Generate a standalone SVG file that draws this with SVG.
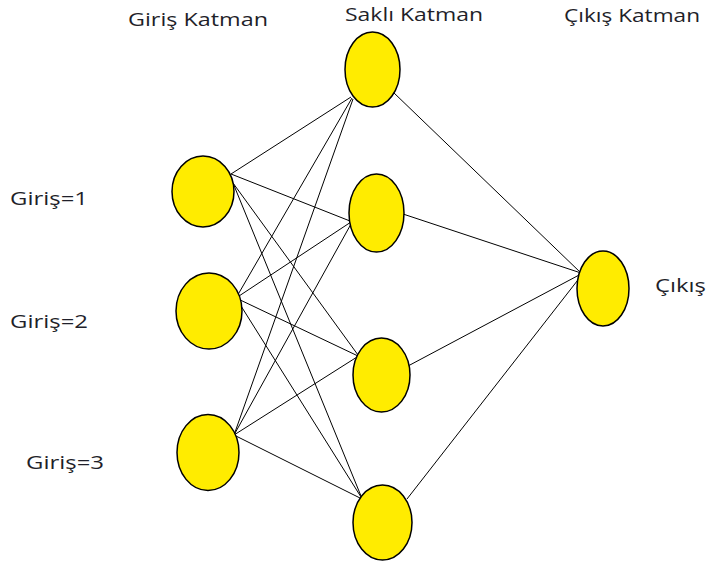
<svg xmlns="http://www.w3.org/2000/svg" width="706" height="563" viewBox="0 0 706 563">
  <style>
    .node { fill: #ffec00; stroke: #000; stroke-width: 1.5; }
    .edge { stroke: #000; stroke-width: 1; fill: none; }
    .lbl { font-family: "Open Sans", "Liberation Sans", sans-serif; font-size: 18px; fill: #1f1f2a; }
  </style>
  <rect width="706" height="563" fill="#fff"/>

  <g id="connectors">
    <!-- input -> hidden -->
    <line class="edge" x1="231" y1="174" x2="351" y2="97"/>
    <line class="edge" x1="231" y1="174" x2="350" y2="221"/>
    <line class="edge" x1="233" y1="183" x2="358" y2="355"/>
    <line class="edge" x1="233" y1="183" x2="361" y2="496"/>
    <line class="edge" x1="236" y1="298" x2="352" y2="98"/>
    <line class="edge" x1="236" y1="298" x2="351" y2="222"/>
    <line class="edge" x1="236" y1="298" x2="358" y2="356"/>
    <line class="edge" x1="236" y1="298" x2="361" y2="497"/>
    <line class="edge" x1="234" y1="435" x2="353" y2="99"/>
    <line class="edge" x1="234" y1="435" x2="351" y2="224"/>
    <line class="edge" x1="234" y1="435" x2="357" y2="357"/>
    <line class="edge" x1="234" y1="435" x2="360" y2="498"/>
    <!-- hidden -> output -->
    <line class="edge" x1="393" y1="92" x2="581" y2="273"/>
    <line class="edge" x1="403" y1="214" x2="581" y2="273"/>
    <line class="edge" x1="408" y1="366" x2="581" y2="274"/>
    <line class="edge" x1="407" y1="499" x2="581" y2="276"/>
  </g>

  <g id="in1"><ellipse class="node" cx="203" cy="191.5" rx="31" ry="35.5"/></g>
  <g id="in2"><ellipse class="node" cx="209" cy="311" rx="33" ry="38"/></g>
  <g id="in3"><ellipse class="node" cx="208" cy="452.5" rx="31" ry="38"/></g>

  <g id="h1"><ellipse class="node" cx="372.5" cy="69.5" rx="27.5" ry="37.5"/></g>
  <g id="h2"><ellipse class="node" cx="376.5" cy="213" rx="27.5" ry="39"/></g>
  <g id="h3"><ellipse class="node" cx="381.5" cy="375" rx="28.5" ry="37"/></g>
  <g id="h4"><ellipse class="node" cx="382.5" cy="522.5" rx="29.5" ry="37.5"/></g>

  <g id="out"><ellipse class="node" cx="603" cy="288.5" rx="26" ry="37.5"/></g>

  <g id="labels">
    <text class="lbl" x="128" y="26" textLength="140" lengthAdjust="spacingAndGlyphs">Giriş Katman</text>
    <text class="lbl" x="345" y="21" textLength="138" lengthAdjust="spacingAndGlyphs">Saklı Katman</text>
    <text class="lbl" x="564" y="22" textLength="136" lengthAdjust="spacingAndGlyphs">Çıkış Katman</text>
    <text class="lbl" x="10" y="205" textLength="78" lengthAdjust="spacingAndGlyphs">Giriş=1</text>
    <text class="lbl" x="10" y="328" textLength="78" lengthAdjust="spacingAndGlyphs">Giriş=2</text>
    <text class="lbl" x="26" y="469" textLength="78" lengthAdjust="spacingAndGlyphs">Giriş=3</text>
    <text class="lbl" x="655" y="292" textLength="51" lengthAdjust="spacingAndGlyphs">Çıkış</text>
  </g>
</svg>
